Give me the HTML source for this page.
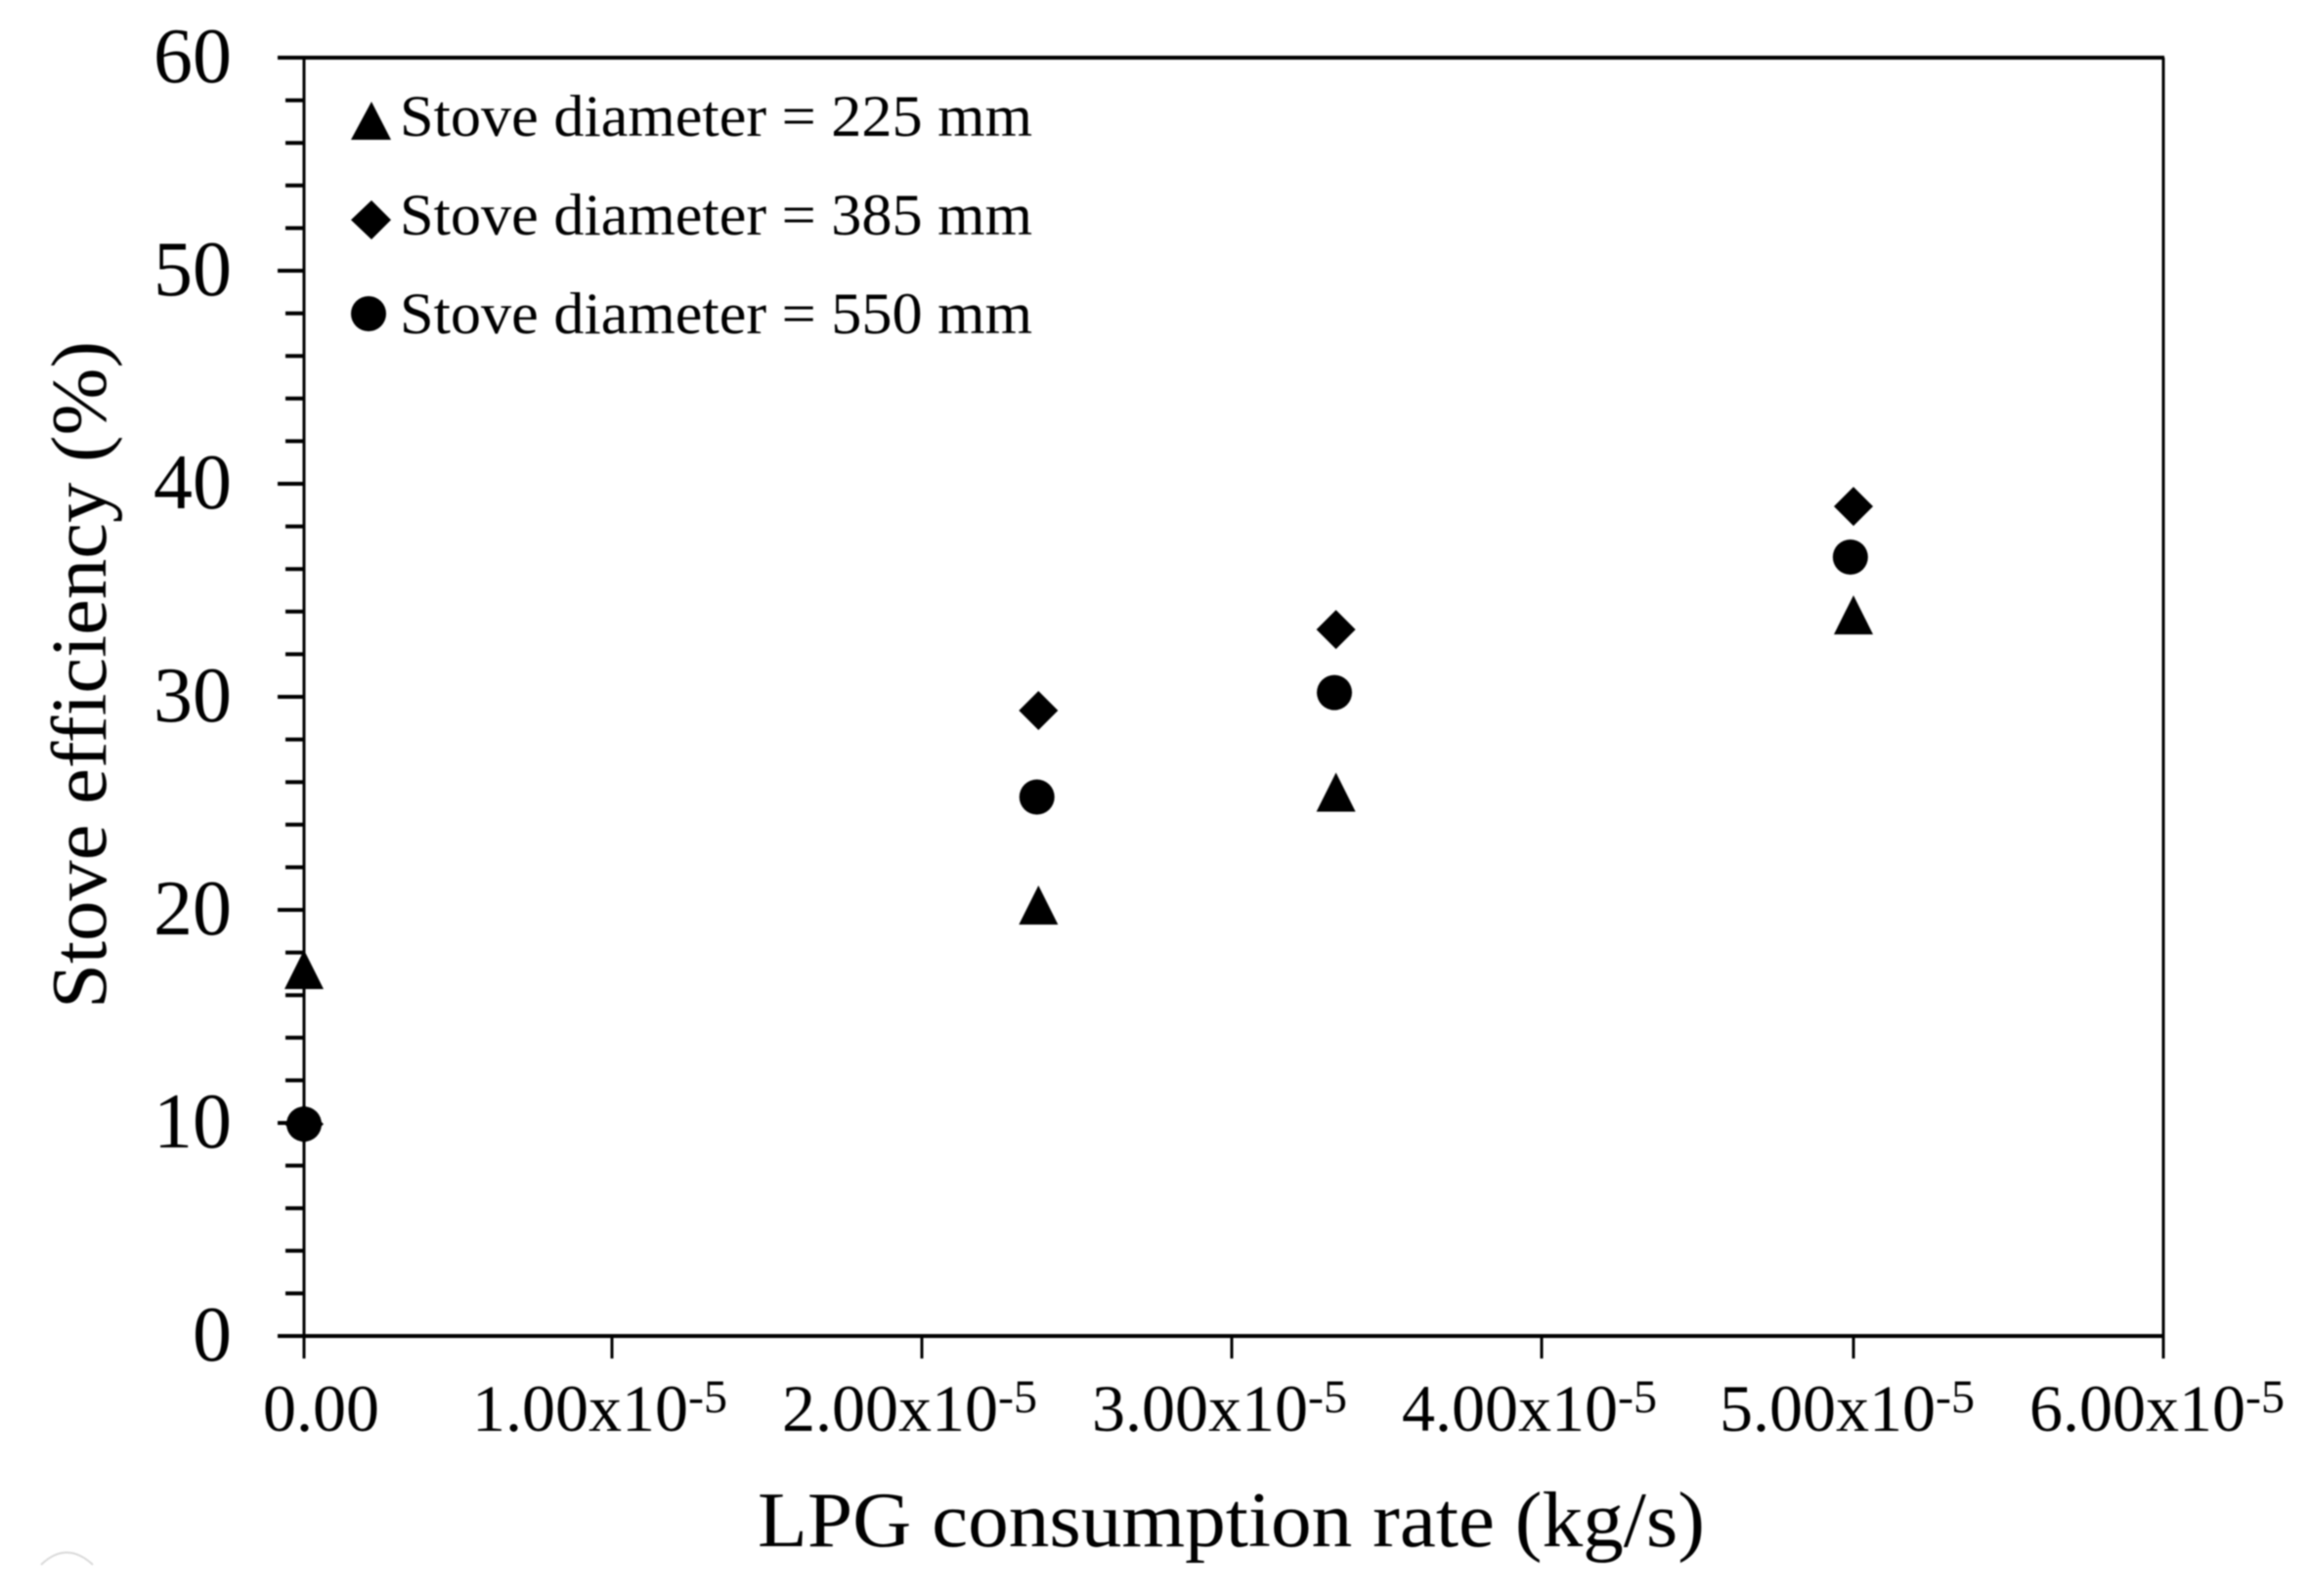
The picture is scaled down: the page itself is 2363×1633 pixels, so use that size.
<!DOCTYPE html>
<html lang="en">
<head>
<meta charset="utf-8">
<title>Stove efficiency vs LPG consumption rate</title>
<style>
html,body{margin:0;padding:0;background:#fff;width:2363px;height:1633px;overflow:hidden}
svg{display:block;filter:blur(.7px)}
text{font-family:"Liberation Serif","Times New Roman",serif;fill:#000}
</style>
</head>
<body>
<svg id="chart" xmlns="http://www.w3.org/2000/svg" width="2363" height="1633" viewBox="0 0 2363 1633">
  <rect x="0" y="0" width="2363" height="1633" fill="#fff"/>
  <path d="M42 1601 Q68 1576 95 1601" fill="none" stroke="#d9d9d9" stroke-width="2"/>
  <g id="axes"></g>
  <g id="marks"></g>
  <g id="legend">
    <g>
      <polygon points="380,104 400,143 359,143" fill="#000"/>
      <text x="409" y="139" font-size="60" textLength="647" lengthAdjust="spacingAndGlyphs">Stove diameter = 225 mm</text>
    </g>
    <g>
      <polygon points="380,205 400,225 380,245 359,225" fill="#000"/>
      <text x="409" y="240" font-size="60" textLength="647" lengthAdjust="spacingAndGlyphs">Stove diameter = 385 mm</text>
    </g>
    <g>
      <circle cx="377" cy="321" r="18" fill="#000"/>
      <text x="409" y="341" font-size="60" textLength="647" lengthAdjust="spacingAndGlyphs">Stove diameter = 550 mm</text>
    </g>
  </g>
  <text transform="translate(108,1032) rotate(-90)" x="0" y="0" font-size="80" textLength="683" lengthAdjust="spacingAndGlyphs">Stove efficiency (%)</text>
  <text x="775" y="1582" font-size="80" textLength="969" lengthAdjust="spacingAndGlyphs">LPG consumption rate (kg/s)</text>
</svg>
<script>
// Data (x values are in units of 1e-5 kg/s, y values in %)
const xTickValues = [0, 1, 2, 3, 4, 5, 6];
const xTickLabels = ["0.00", "1.00", "2.00", "3.00", "4.00", "5.00", "6.00"];
const yTickValues = [0, 10, 20, 30, 40, 50, 60];
const yTickLabels = ["0", "10", "20", "30", "40", "50", "60"];
const yMinorTickValues = [2, 4, 6, 8, 12, 14, 16, 18, 22, 24, 26, 28, 32, 34, 36, 38, 42, 44, 46, 48, 52, 54, 56, 58];
const triangleX = [0, 2.37, 3.33, 5.00];
const triangleY = [17.2, 20.23, 25.53, 33.85];
const diamondX = [0, 2.37, 3.33, 5.00];
const diamondY = [9.95, 29.36, 33.16, 38.94];
const circleX = [0, 2.365, 3.325, 4.99];
const circleY = [9.95, 25.3, 30.2, 36.56];

const NS = "http://www.w3.org/2000/svg";
const axes = document.getElementById("axes");
const marks = document.getElementById("marks");

function xScale(v) { return 311 + v * 317; }
function yScale(v) { return 1367 - v * 21.8; }

function line(x1, y1, x2, y2, w) {
  const el = document.createElementNS(NS, "line");
  el.setAttribute("x1", x1);
  el.setAttribute("y1", y1);
  el.setAttribute("x2", x2);
  el.setAttribute("y2", y2);
  el.setAttribute("stroke", "#000");
  el.setAttribute("stroke-width", w);
  axes.appendChild(el);
  return el;
}

const xMin = xScale(0), xMax = xScale(6), yTop = yScale(60), yBottom = yScale(0);

const frameTop = line(xMin, yTop, xMax + 1, yTop, 4);


const frameRight = line(xMax, yTop, xMax, yBottom, 3);


const yAxisLine = line(xMin, yTop, xMin, yBottom, 3);


const xAxisLine = line(xMin, yBottom, xMax + 1, yBottom, 4);



yTickValues.forEach(function (v, i) {
  const tick = line(284, yScale(v), xMin, yScale(v), 4);
  
  
  const t = document.createElementNS(NS, "text");
  t.setAttribute("x", 237);
  t.setAttribute("y", yScale(v) + 25);
  t.setAttribute("font-size", 80);
  t.setAttribute("text-anchor", "end");
  t.textContent = yTickLabels[i];
  
  
  axes.appendChild(t);
});

yMinorTickValues.forEach(function (v) {
  const tick = line(292, yScale(v), xMin, yScale(v), 4);
  
  
});

function xLabelOffset(v) {
  if (v === 0) { return 42; }
  return v < 5 ? 145 : 137;
}

xTickValues.forEach(function (v, i) {
  const tick = line(xScale(v) - (v > 0 && v < 5 ? 2 : 0), yBottom, xScale(v) - (v > 0 && v < 5 ? 2 : 0), 1390, 3);
  
  
  const t = document.createElementNS(NS, "text");
  t.setAttribute("x", xScale(v) - xLabelOffset(v));
  t.setAttribute("y", 1464);
  t.setAttribute("font-size", 68);
  t.textContent = xTickLabels[i] + (v === 0 ? "" : "x10");
  
  
  if (v !== 0) {
    const sup = document.createElementNS(NS, "tspan");
    sup.setAttribute("dy", -19);
    sup.setAttribute("font-size", 48);
    sup.textContent = "-5";
    t.appendChild(sup);
  }
  axes.appendChild(t);
});

function drawTriangle(cx, cy) {
  const el = document.createElementNS(NS, "polygon");
  el.setAttribute("points", cx + "," + (cy - 20) + " " + (cx + 20) + "," + (cy + 20) + " " + (cx - 20) + "," + (cy + 20));
  el.setAttribute("fill", "#000");
  
  
  marks.appendChild(el);
}
function drawDiamond(cx, cy) {
  const el = document.createElementNS(NS, "polygon");
  el.setAttribute("points", cx + "," + (cy - 20) + " " + (cx + 20) + "," + cy + " " + cx + "," + (cy + 20) + " " + (cx - 20) + "," + cy);
  el.setAttribute("fill", "#000");
  
  
  marks.appendChild(el);
}
function drawCircle(cx, cy) {
  const el = document.createElementNS(NS, "circle");
  el.setAttribute("cx", cx);
  el.setAttribute("cy", cy);
  el.setAttribute("r", 18);
  el.setAttribute("fill", "#000");
  
  
  marks.appendChild(el);
}

triangleX.forEach(function (v, i) { drawTriangle(xScale(v), yScale(triangleY[i])); });
diamondX.forEach(function (v, i) { drawDiamond(xScale(v), yScale(diamondY[i])); });
circleX.forEach(function (v, i) { drawCircle(xScale(v), yScale(circleY[i])); });
</script>
</body>
</html>
